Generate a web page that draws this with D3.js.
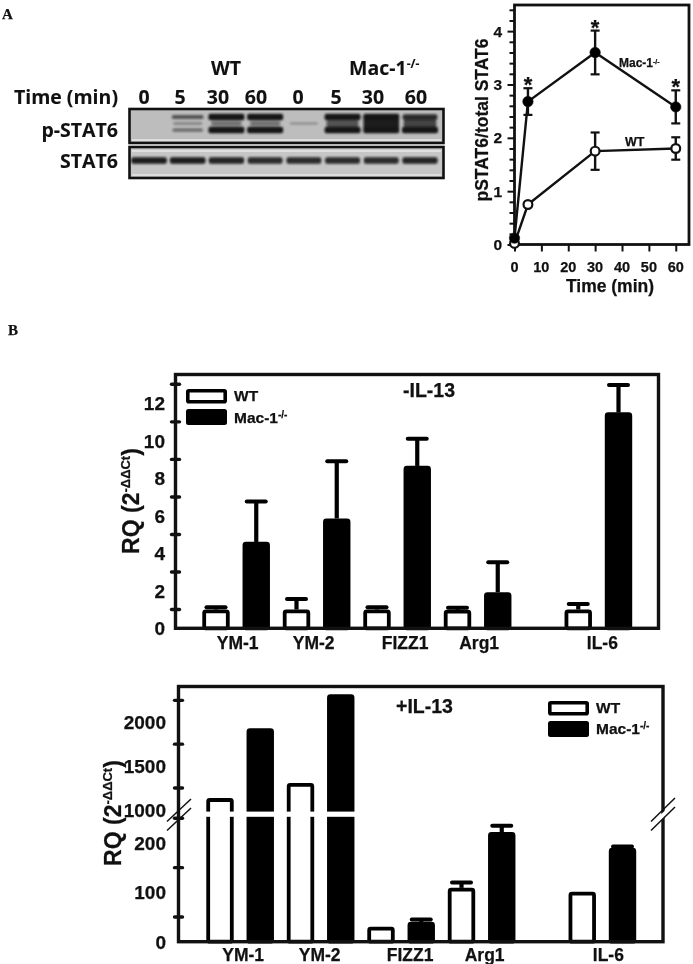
<!DOCTYPE html>
<html><head><meta charset="utf-8">
<script src="https://cdn.jsdelivr.net/npm/d3@7/dist/d3.min.js"></script>
<style>
html,body{margin:0;padding:0;background:#fff;}
svg{display:block;filter:blur(0.5px);}
text{font-family:"Liberation Sans",Arial,sans-serif;font-weight:700;fill:#111;stroke:#111;stroke-width:.25px;}
.blotLabel{font-family:"Open Sans",sans-serif;fill:#111;stroke-width:.1px;}
</style></head><body>
<svg id="c" width="693" height="964"></svg>
<script>
// ---- data ----
const laneLabels = ["0","5","30","60","0","5","30","60"];
const pUpper  = [0, .5, 1, 1, 0, 1, 1, .85];
const pMiddle = [0, .12, .3, .3, .06, .5, .95, .6];
const pLower  = [0, .35, 1, 1, 0, 1, 1, 1];
const totalBand = [.95, .95, .9, .85, .85, .85, .85, .9];

const timeMin = [0, 5, 30, 60];
const macMean = [0.12, 2.68, 3.6, 2.58];
const macErr  = [0, 0.25, 0.41, 0.31];
const wtMean  = [0.02, 0.75, 1.75, 1.8];
const wtErr   = [0, 0, 0.35, 0.21];
const starred = [5, 30, 60];

const genes = ["YM-1", "YM-2", "FIZZ1", "Arg1", "IL-6"];
const geneSlot = [0, 2, 4, 6, 9];
const noIlWt     = [1.0, 1.0, 1.0, 0.98, 1.0];
const noIlWtTop  = [1.12, 1.56, 1.12, 1.1, 1.3];
const noIlMac    = [4.6, 5.85, 8.65, 1.92, 11.5];
const noIlMacTop = [6.75, 8.9, 10.1, 3.52, 12.97];
const ilWt     = [1133, 1305, 30, 109, 101];
const ilWtTop  = [1133, 1305, 30, 120, 101];
const ilMac    = [1930, 2320, 40, 222, 190];
const ilMacTop = [1930, 2320, 45, 235, 193];

const svg = d3.select("#c");
const defs = svg.append("defs");
defs.append("filter").attr("id","bandBlur").attr("x","-10%").attr("y","-60%").attr("width","120%").attr("height","220%")
  .append("feGaussianBlur").attr("stdDeviation","1.0");

function txt(g,x,y,s,size,anchor){
  return g.append("text").attr("x",x).attr("y",y).attr("font-size",size).attr("text-anchor",anchor||"start").text(s);
}
function withSup(g,x,y,base,sup,size,supSize,dy,cls){
  const t=g.append("text").attr("x",x).attr("y",y).attr("font-size",size);
  if(cls)t.attr("class",cls);
  t.append("tspan").text(base);
  t.append("tspan").attr("font-size",supSize).attr("dy",-dy).text(sup);
  return t;
}

// panel letters
svg.append("text").attr("x",2).attr("y",19).attr("font-size",15).style("font-family","'Liberation Serif',serif").text("A");
svg.append("text").attr("x",8).attr("y",335).attr("font-size",15).style("font-family","'Liberation Serif',serif").text("B");

// ---- blot ----
const blot = svg.append("g");
const laneX = d3.scaleLinear().domain([0,7]).range([149,420]);
const labelX = d3.scaleLinear().domain(d3.range(8)).range([144,180,218,256,298,336,373,416]);
const thick = d3.scaleLinear().domain([0,1]).range([1.5,6.5]);
const bandW = d3.scaleLinear().domain([0,1]).range([28,36]);
const dark = d3.scaleLinear().domain([0,1]).range([.25,1]);
const bandColor = "#151515";
function frameBox(y0,y1,fill){
  blot.append("rect").attr("x",130).attr("y",y0).attr("width",313).attr("height",y1-y0).attr("fill",fill).attr("stroke","none");
  blot.append("rect").attr("x",132).attr("y",y1-4).attr("width",309).attr("height",2).attr("fill","#dedede");
}
frameBox(110,143,"#bdbdbd");
frameBox(148,178,"#c6c6c6");
blot.append("rect").attr("x",132).attr("y",150).attr("width",309).attr("height",2).attr("fill","#e0e0e0");
const bandG = blot.append("g").attr("filter","url(#bandBlur)");
function bands(vals,y,tf){
  vals.forEach((v,i)=>{
    if(v<=0)return;
    const w=bandW(v),h=tf?tf(v):thick(v);
    bandG.append("rect").attr("x",laneX(i)-w/2).attr("y",y-h/2).attr("width",w).attr("height",h)
      .attr("rx",2).attr("fill",bandColor).attr("opacity",dark(v));
  });
}
bands(pMiddle,123.5,d3.scaleLinear().domain([0,1]).range([1.5,12]));
bands(pUpper,117,null);
bands(pLower,130,null);
bands(totalBand,160.5,()=>6.5);
[[129.5,109,314,34],[129.5,147,314,31]].forEach(b=>{
  blot.append("rect").attr("x",b[0]).attr("y",b[1]).attr("width",b[2]).attr("height",b[3]).attr("fill","none").attr("stroke","#111").attr("stroke-width",2.6);
});
const bl=(x,y,s,a)=>blot.append("text").attr("class","blotLabel").attr("x",x).attr("y",y).attr("font-size",19.5).attr("text-anchor",a).text(s);
bl(226,75,"WT","middle");
withSup(blot,349,75,"Mac-1","-/-",19.5,12,7,"blotLabel");
bl(118,104,"Time (min)","end");
bl(118,137,"p-STAT6","end");
bl(118,168,"STAT6","end");
laneLabels.forEach((l,i)=>bl(labelX(i),104,l,"middle"));

// ---- time course ----
const ga = svg.append("g");
const xA = d3.scaleLinear().domain([0,65]).range([514.5,689.2]);
const yA = d3.scaleLinear().domain([0,4.49]).range([244.5,5]);
const yAxisA = d3.axisLeft(yA).tickValues(d3.range(0,4.41,0.2)).tickSize(0).tickFormat("");
ga.append("g").attr("transform","translate(514.5,0)").call(yAxisA).call(g=>g.select(".domain").remove())
  .selectAll("line").attr("x2",d=>Math.abs(d-Math.round(d))<.01?-7:-5).attr("stroke","#111").attr("stroke-width",2);
[0,1,2,3,4].forEach(v=>txt(ga,502,yA(v)+5.5,v,15.5,"end"));
const xAxisA = d3.axisBottom(xA).tickValues(d3.range(0,61,10)).tickSize(0).tickFormat("");
ga.append("g").attr("transform","translate(0,244.5)").call(xAxisA).call(g=>g.select(".domain").remove())
  .selectAll("line").attr("y2",7).attr("stroke","#111").attr("stroke-width",2);
d3.range(0,61,10).forEach(v=>txt(ga,xA(v),272,v,14.5,"middle"));
ga.append("rect").attr("x",514.5).attr("y",5).attr("width",174.5).attr("height",239.5).attr("fill","none").attr("stroke","#111").attr("stroke-width",2.8);
const lineA = d3.line().x((d,i)=>xA(timeMin[i])).y(d=>yA(d));
function series(mean,err,fill){
  const idx=d3.range(timeMin.length);
  ga.append("path").attr("d",lineA(mean)).attr("fill","none").attr("stroke","#111").attr("stroke-width",2.4);
  idx.filter(i=>err[i]>0).forEach(i=>{
    const x=xA(timeMin[i]),t=yA(mean[i]+err[i]),b=yA(mean[i]-err[i]);
    ga.append("line").attr("x1",x).attr("x2",x).attr("y1",t).attr("y2",b).attr("stroke","#111").attr("stroke-width",2.4);
    [t,b].forEach(y=>ga.append("line").attr("x1",x-4.5).attr("x2",x+4.5).attr("y1",y).attr("y2",y).attr("stroke","#111").attr("stroke-width",2.2));
  });
  idx.forEach(i=>ga.append("circle").attr("cx",xA(timeMin[i])).attr("cy",yA(mean[i])).attr("r",fill==="#fff"?4.4:5.2)
    .attr("fill",fill).attr("stroke","#111").attr("stroke-width",fill==="#fff"?2.2:.6));
}
series(wtMean,wtErr,"#fff");
series(macMean,macErr,"#000");
starred.forEach(t=>{const i=timeMin.indexOf(t);
  txt(ga,xA(t),yA(macMean[i]+macErr[i])+4,"*",22,"middle");});
withSup(ga,619,67,"Mac-1","-/-",12,7,3);
txt(ga,625,146,"WT",12.5);
txt(ga,610,292,"Time (min)",17.5,"middle");
ga.append("text").attr("transform","translate(488,120) rotate(-90)").attr("text-anchor","middle").attr("font-size",17.5).text("pSTAT6/total STAT6");

// ---- shared bar helpers ----
function ticksBlob(g,ys,x){
  ys.forEach(y=>g.append("line").attr("x1",x-4).attr("x2",x+4).attr("y1",y).attr("y2",y)
    .attr("stroke","#111").attr("stroke-width",3.4).attr("stroke-linecap","round"));
}
function drawBar(g,x,yT,yB,isMac){
  g.append("rect").attr("x",x-11.8).attr("y",yT+1.8).attr("width",23.6).attr("height",yB-yT-1.8)
    .attr("rx",1.5).attr("fill",isMac?"#000":"#fff").attr("stroke","#000").attr("stroke-width",3.8);
}
function drawErr(g,x,yV,yE,capHalf){
  if(yV-yE<1)return;
  g.append("line").attr("x1",x).attr("x2",x).attr("y1",yV).attr("y2",yE).attr("stroke","#000").attr("stroke-width",4.2);
  g.append("line").attr("x1",x-capHalf).attr("x2",x+capHalf).attr("y1",yE).attr("y2",yE).attr("stroke","#000").attr("stroke-width",4).attr("stroke-linecap","round");
}
function rqTitle(g,x,y){
  const t=g.append("text").attr("transform",`translate(${x},${y}) rotate(-90)`).attr("text-anchor","middle").attr("font-size",23);
  t.append("tspan").text("RQ (2");
  t.append("tspan").attr("font-size",13).attr("dy",-9).text("-ΔΔCt");
  t.append("tspan").attr("dy",9).text(")");
}
function legend(g,x,y1,y2,tx,by1,by2){
  g.append("rect").attr("x",x+1.8).attr("y",y1+1.8).attr("width",37.4).attr("height",11).attr("rx",1).attr("fill","#fff").attr("stroke","#000").attr("stroke-width",3.6);
  g.append("rect").attr("x",x).attr("y",y2).attr("width",41).attr("height",16).attr("rx",2.5).attr("fill","#000");
  txt(g,tx,by1,"WT",15.5);
  withSup(g,tx,by2,"Mac-1","-/-",15.5,10,5);
}

// ---- -IL-13 ----
const gb = svg.append("g");
const xB = d3.scaleLinear().domain([0,10]).range([216,618.5]);
const yB = d3.scaleLinear().domain([0,13.55]).range([628.3,374]);
const labelShiftB = [1.5,-3,8,1.5,4];
rqTitle(gb,139,501);
[0,2,4,6,8,10,12].forEach(v=>txt(gb,165,yB(v)+7,v,19,"end"));
ticksBlob(gb,[1,3,5,7,9,11,13].map(yB),175.5);
genes.forEach((g,i)=>{
  const a=xB(geneSlot[i]),b=xB(geneSlot[i]+1);
  drawErr(gb,a,yB(noIlWt[i]),yB(noIlWtTop[i]),9.5);
  drawBar(gb,a,yB(noIlWt[i]),yB(0),false);
  drawErr(gb,b,yB(noIlMac[i]),yB(noIlMacTop[i]),9.5);
  drawBar(gb,b,yB(noIlMac[i]),yB(0),true);
  txt(gb,(a+b)/2+labelShiftB[i],649,g,17.5,"middle");
});
gb.append("rect").attr("x",175.5).attr("y",374.5).attr("width",483).attr("height",253.8).attr("fill","none").attr("stroke","#111").attr("stroke-width",3.4);
legend(gb,186,389,409,234,401,423);
txt(gb,403,397,"-IL-13",19.5);

// ---- +IL-13 (broken axis) ----
const gc = svg.append("g");
const xC = d3.scaleLinear().domain([0,10]).range([220,622.5]);
const yLow = d3.scaleLinear().domain([0,253]).range([941.7,816.8]);
const yUp = d3.scaleLinear().domain([980,2414]).range([811.6,686]);
const yC = v => v<=253 ? yLow(v) : yUp(v);
const labelShiftC = [3,-1,9,3,6];
rqTitle(gc,121,813);
[0,100,200,1000,1500,2000].forEach(v=>txt(gc,166,yC(v)+7,v,19,"end"));
ticksBlob(gc,[50,150,250,1250,1750,2250].map(yC),178.5);
genes.forEach((g,i)=>{
  const a=xC(geneSlot[i]),b=xC(geneSlot[i]+1);
  drawErr(gc,a,yC(ilWt[i]),yC(ilWtTop[i]),9.5);
  drawBar(gc,a,yC(ilWt[i]),yC(0),false);
  drawErr(gc,b,yC(ilMac[i]),yC(ilMacTop[i]),9.5);
  drawBar(gc,b,yC(ilMac[i]),yC(0),true);
  [a,b].forEach((x,k)=>{
    const top=k?ilMac[i]:ilWt[i];
    if(top>253)gc.append("rect").attr("x",x-15).attr("y",yUp(980)).attr("width",30).attr("height",yLow(253)-yUp(980)).attr("fill","#fff");
  });
  txt(gc,(a+b)/2+labelShiftC[i],961,g,17.5,"middle");
});
gc.append("rect").attr("x",178.5).attr("y",686.5).attr("width",484.5).attr("height",255.2).attr("fill","none").attr("stroke","#111").attr("stroke-width",3.4);
gc.append("polygon").attr("points","652,823 676,800 676,806 652,829").attr("fill","#fff");
[[167,821.5,191,799],[167,830.5,191,808],[651,821.5,675,798],[651,830.5,675,807]].forEach(s=>{
  gc.append("line").attr("x1",s[0]).attr("y1",s[1]).attr("x2",s[2]).attr("y2",s[3]).attr("stroke","#111").attr("stroke-width",1.5);
});
legend(gc,548,701,721,596,713,734);
txt(gc,396,713,"+IL-13",19.5);
</script></body></html>
